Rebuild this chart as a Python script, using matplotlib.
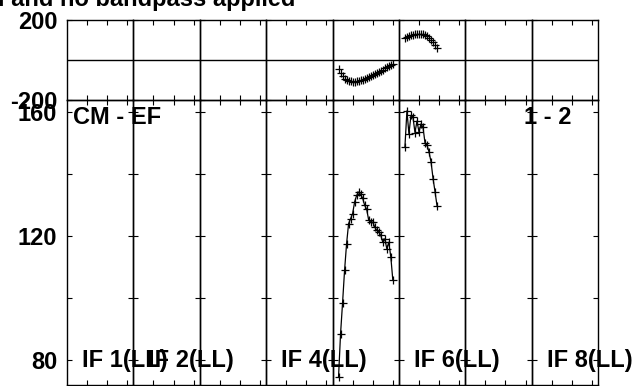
import matplotlib
matplotlib.use('Agg')
import matplotlib.pyplot as plt
from matplotlib.transforms import blended_transform_factory

plt.rcParams['font.family'] = ['Liberation Sans', 'DejaVu Sans']
plt.rcParams['font.weight'] = 'bold'

# channel data per IF (only IF 5 and IF 6 carry data)
if5_chan = list(range(3, 31))
if5_phase = [-45, -65, -82, -94, -101, -105, -107, -108, -108, -107, -105, -102, -99, -95,
             -91, -86, -81, -76, -71, -65, -60, -54, -48, -42, -36, -30, -24, -18]
if5_amp = [74.5, 88.5, 98.5, 109.0, 117.6, 124.1, 125.7, 127.3, 131.1, 133.2, 134.3, 133.5,
           132.3, 130.0, 128.7, 125.2, 124.6, 124.6, 123.0, 121.9, 121.4, 120.3, 118.1, 119.2,
           116.0, 118.1, 113.3, 105.8]

if6_chan = list(range(3, 20))
if6_phase = [110, 115, 120, 124, 127, 129, 131, 132, 132, 130, 127, 120, 112, 102, 90, 76, 62]
if6_amp = [148.8, 160.5, 153.1, 159.0, 158.5, 153.5, 157.2, 153.7, 156.3, 155.2, 150.1,
           149.4, 147.2, 144.0, 138.6, 134.3, 129.7]

data = {4: (if5_chan, if5_phase, if5_amp), 5: (if6_chan, if6_phase, if6_amp)}
if_labels = {0: 'IF 1(LL)', 1: 'IF 2(LL)', 3: 'IF 4(LL)', 5: 'IF 6(LL)', 7: 'IF 8(LL)'}

W, H = 634, 386
fig = plt.figure(figsize=(W / 100, H / 100), dpi=100)

x_left, x_right = 67, 598
pw = (x_right - x_left) / 8
top_y0, top_y1 = 20, 100
bot_y1 = 385
fs = 17

for i in range(8):
    x0 = x_left + i * pw
    ax_p = fig.add_axes([x0 / W, 1 - top_y1 / H, pw / W, (top_y1 - top_y0) / H])
    ax_a = fig.add_axes([x0 / W, 1 - bot_y1 / H, pw / W, (bot_y1 - top_y1) / H])

    for ax in (ax_p, ax_a):
        ax.patch.set_visible(False)
        ax.set_xlim(0, 33)
        ax.set_xticks([10, 20, 30])
        ax.tick_params(axis='both', direction='in', length=3.6, width=0.8,
                       top=True, bottom=True, left=True, right=True,
                       labelbottom=False, labelleft=False, labelsize=fs)
        for s in ax.spines.values():
            s.set_linewidth(1.0)

    ax_p.set_ylim(-200, 200)
    ax_p.set_yticks([-200, 200])
    ax_p.axhline(0, color='black', lw=1.0)

    ax_a.set_ylim(72, 164)
    ax_a.set_yticks([80, 100, 120, 140, 160])

    if i == 0:
        ax_p.tick_params(labelleft=True, pad=7)
        ax_p.set_yticklabels(['-200', '200'], fontweight='bold')
        ax_a.tick_params(labelleft=True, pad=7)
        ax_a.set_yticklabels(['80', '', '120', '', '160'], fontweight='bold')
        ax_a.text(6 / pw, 1.0 - 6 / (bot_y1 - top_y1), 'CM - EF', transform=ax_a.transAxes,
                  fontsize=fs, fontweight='bold', ha='left', va='top', clip_on=False)
    if i == 7:
        ax_a.text(1 - 26 / pw, 1.0 - 6 / (bot_y1 - top_y1), '1 - 2', transform=ax_a.transAxes,
                  fontsize=fs, fontweight='bold', ha='right', va='top', clip_on=False)

    if i in if_labels:
        tr = blended_transform_factory(ax_a.transAxes, ax_a.transData)
        ax_a.text(15 / pw, 80, if_labels[i], transform=tr,
                  fontsize=fs, fontweight='bold', ha='left', va='center', clip_on=False)

    if i in data:
        ch, ph, am = data[i]
        ax_p.plot(ch, ph, '+', color='black', markersize=6, mew=0.9)
        ax_a.plot(ch, am, '-+', color='black', lw=0.9, markersize=6, mew=0.9)

fig.text(-2 / W, 1 - 6 / H, 'l and no bandpass applied', fontsize=17, fontweight='bold',
         ha='left', va='baseline')

fig.savefig('out.png', dpi=100)
